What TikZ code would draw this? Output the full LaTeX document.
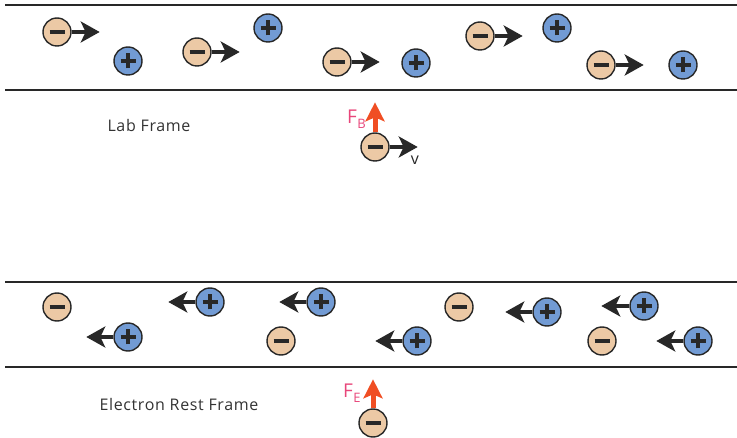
\documentclass[tikz,border=0pt]{standalone}
\usepackage{fontspec}
\setmainfont{Open Sans}
\newfontfamily\framefont[LetterSpace=4]{Open Sans}
\usetikzlibrary{arrows.meta, positioning}

\definecolor{electronfill}{RGB}{236,201,165}
\definecolor{ionfill}{RGB}{114,155,212}
\definecolor{forcered}{RGB}{240,78,35}
\definecolor{labelpink}{RGB}{232,70,122}
\definecolor{wire}{RGB}{40,40,40}

\begin{document}
\begin{tikzpicture}[x=1pt, y=-1pt,
            charge/.style={circle, draw=wire, line width=1.4pt, minimum size=28pt, inner sep=0pt},
            electron/.style={charge, fill=electronfill,
                path picture={\draw[wire, line width=3.6pt] ([xshift=-7.5pt]path picture bounding box.center) -- ([xshift=7.5pt]path picture bounding box.center);}},
            ion/.style={charge, fill=ionfill,
                path picture={\draw[wire, line width=3.6pt] ([xshift=-7.5pt]path picture bounding box.center) -- ([xshift=7.5pt]path picture bounding box.center)
                    ([yshift=-7.5pt]path picture bounding box.center) -- ([yshift=7.5pt]path picture bounding box.center);}},
            drift/.style={wire, line width=4pt, -{Stealth[length=19pt, width=21pt, inset=5pt]}},
            force/.style={forcered, line width=5pt, -{Stealth[length=19pt, width=19pt, inset=4pt]}},
            wall/.style={wire, line width=1.6pt},
            frame label/.style={font=\framefont\fontsize{16}{18}\selectfont, text=black!80},
            force label/.style={font=\fontsize{19}{21}\selectfont, text=labelpink, inner sep=0pt}]

            \useasboundingbox (0,0) rectangle (737,438);

            % Lab frame: wire walls
            \draw[wall] (5,5) -- (737,5);
            \draw[wall] (5,90) -- (737,90);

            % Lab frame: drifting electrons and fixed ions
            \node[electron] (le1) at (57,32) {};
            \coordinate[right=28pt of le1] (le1v);
            \draw[drift] (le1) -- (le1v);
            \node[ion] (li1) at (128,61) {};

            \node[electron] (le2) at (197,52) {};
            \coordinate[right=28pt of le2] (le2v);
            \draw[drift] (le2) -- (le2v);
            \node[ion] (li2) at (268,28) {};

            \node[electron] (le3) at (337,62) {};
            \coordinate[right=28pt of le3] (le3v);
            \draw[drift] (le3) -- (le3v);
            \node[ion] (li3) at (416,63) {};

            \node[electron] (le4) at (480,36) {};
            \coordinate[right=28pt of le4] (le4v);
            \draw[drift] (le4) -- (le4v);
            \node[ion] (li4) at (557,28) {};

            \node[electron] (le5) at (601,65) {};
            \coordinate[right=28pt of le5] (le5v);
            \draw[drift] (le5) -- (le5v);
            \node[ion] (li5) at (683,65) {};

            \node[frame label] (lab) at (149,126) {Lab Frame};

            % Lab frame: test electron with magnetic force
            \node[electron] (lt) at (375,147) {};
            \coordinate[above=30pt of lt] (ltf);
            \coordinate[right=28pt of lt] (ltv);
            \draw[force] (lt) -- (ltf);
            \draw[drift] (lt) -- (ltv);
            \node[force label] (fb) at (352,117) {F};
            \node[force label, font=\fontsize{13}{15}\selectfont, below right=-5pt and 0pt of fb] {B};
            \node[font=\fontsize{16}{18}\selectfont, text=black!85] (vl) at (415,160) {v};

            % Rest frame: wire walls
            \draw[wall] (5,282) -- (737,282);
            \draw[wall] (5,367) -- (737,367);

            % Rest frame: electrons at rest, ions drifting back
            \node[electron] (re1) at (57,307) {};
            \node[ion] (ri1) at (128,337) {};
            \coordinate[left=27pt of ri1] (ri1v);
            \draw[drift] (ri1) -- (ri1v);

            \node[ion] (ri2) at (210,302) {};
            \coordinate[left=27pt of ri2] (ri2v);
            \draw[drift] (ri2) -- (ri2v);
            \node[electron] (re2) at (281,341) {};

            \node[ion] (ri3) at (321,302) {};
            \coordinate[left=27pt of ri3] (ri3v);
            \draw[drift] (ri3) -- (ri3v);
            \node[ion] (ri4) at (417,341) {};
            \coordinate[left=27pt of ri4] (ri4v);
            \draw[drift] (ri4) -- (ri4v);

            \node[electron] (re3) at (459,307) {};
            \node[ion] (ri5) at (547,312) {};
            \coordinate[left=27pt of ri5] (ri5v);
            \draw[drift] (ri5) -- (ri5v);

            \node[ion] (ri6) at (644,306) {};
            \coordinate[left=28pt of ri6] (ri6v);
            \draw[drift] (ri6) -- (ri6v);
            \node[electron] (re4) at (602,341) {};
            \node[ion] (ri7) at (698,341) {};
            \coordinate[left=27pt of ri7] (ri7v);
            \draw[drift] (ri7) -- (ri7v);

            \node[frame label] (rest) at (179,405) {Electron Rest Frame};

            % Rest frame: test electron with electric force
            \node[electron] (rt) at (373,423) {};
            \coordinate[above=29pt of rt] (rtf);
            \draw[force] (rt) -- (rtf);
            \node[force label] (fe) at (348,391) {F};
            \node[force label, font=\fontsize{13}{15}\selectfont, below right=-5pt and 0pt of fe] {E};
        \end{tikzpicture}
\end{document}
